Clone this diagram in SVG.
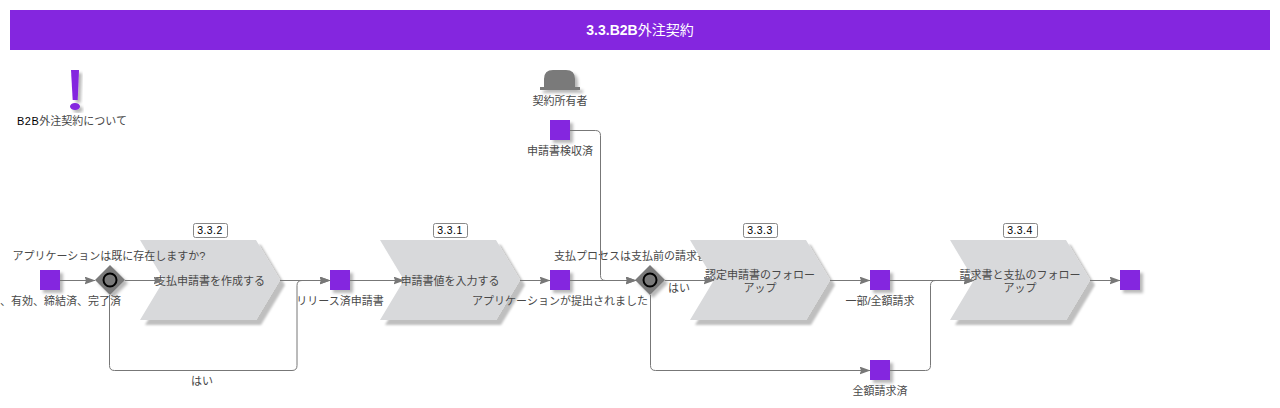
<svg xmlns="http://www.w3.org/2000/svg" width="1280" height="408" viewBox="0 0 1280 408">
<style>
text{font-family:"Liberation Sans","Noto Sans CJK JP",sans-serif;font-size:11px;fill:#484848;text-anchor:middle}
.ev{fill:#8426df;filter:url(#s)}
.fn{fill:#d8d9db;filter:url(#s2)}
.gw{fill:#7a7a7a;filter:url(#s)}
.ring{fill:none;stroke:#000;stroke-width:2}
.badge{fill:#fff;stroke:#888;stroke-width:1}
.num{fill:#000;font-size:10.500px;letter-spacing:.4px}
.c{fill:none;stroke:#777;stroke-width:1;marker-end:url(#a)}
</style>
<defs>
<filter id="s" x="-30%" y="-30%" width="170%" height="170%"><feDropShadow dx="3" dy="3" stdDeviation="1.5" flood-color="#000" flood-opacity=".28"/></filter>
<filter id="s2" x="-10%" y="-10%" width="125%" height="130%"><feDropShadow dx="5" dy="5" stdDeviation="1.2" flood-color="#000" flood-opacity=".25"/></filter>
<marker id="a" markerUnits="userSpaceOnUse" markerWidth="11" markerHeight="8" refX="10.500" refY="4" orient="auto"><path d="M0 0L11 4L0 8L1.500 4Z" fill="#777"/></marker>
<polygon id="chev" points="0,0 116,0 140,40 116,80 0,80 24,40"/>
</defs>
<g id="header"><rect x="10" y="10" width="1260" height="40" fill="#8426df"/><text x="640" y="35" style="font-size:14px;fill:#fff;font-weight:bold">3.3.B2B<tspan font-weight="normal">外注契約</tspan></text></g>
<g id="note"><path class="ev" d="M71 70H79L77.700 100H72.700Z"/><ellipse class="ev" cx="75" cy="106.500" rx="5" ry="3.500"/><text x="72" y="125"><tspan fill="#000" letter-spacing=".5">B2B</tspan>外注契約について</text></g>
<g id="owner"><path class="gw" d="M544 87V79Q544 70 553 70H566Q575 70 575 79V87H580V90H540V87Z"/><text x="560" y="105">契約所有者</text></g>
<g id="e-received"><rect class="ev" x="550" y="120" width="20" height="20"/><text x="560" y="155">申請書検収済</text></g>
<g id="f332"><use href="#chev" x="140" y="240" class="fn"/><text x="210" y="285">支払申請書を作成する</text><rect class="badge" x="193.500" y="223.500" width="34" height="14" rx="2"/><text x="210" y="234" class="num">3.3.2</text></g>
<g id="e-start"><rect class="ev" x="40" y="270" width="20" height="20"/></g>
<g id="g1"><path class="gw" d="M110 265L125 280L110 295L95 280Z"/><circle class="ring" cx="110" cy="280" r="6.500"/><text x="109" y="260">アプリケーションは既に存在しますか?</text><text x="121" y="305" style="text-anchor:end">、有効、締結済、完了済</text></g>
<g id="e-released"><rect class="ev" x="330" y="270" width="20" height="20"/><text x="340" y="305">リリース済申請書</text></g>
<g id="f331"><use href="#chev" x="380" y="240" class="fn"/><text x="450" y="285">申請書値を入力する</text><rect class="badge" x="433.500" y="223.500" width="34" height="14" rx="2"/><text x="450" y="234" class="num">3.3.1</text></g>
<g id="e-submitted"><rect class="ev" x="550" y="270" width="20" height="20"/><text x="560" y="305">アプリケーションが提出されました</text></g>
<g id="g2"><path class="gw" d="M650 265L665 280L650 295L635 280Z"/><circle class="ring" cx="650" cy="280" r="6.500"/><text x="554" y="260" style="text-anchor:start">支払プロセスは支払前の請求書</text><text x="679" y="292">はい</text></g>
<g id="f333"><use href="#chev" x="690" y="240" class="fn"/><text x="760" y="279">認定申請書のフォロー</text><text x="760" y="292">アップ</text><rect class="badge" x="743.500" y="223.500" width="34" height="14" rx="2"/><text x="760" y="234" class="num">3.3.3</text></g>
<g id="e-partial"><rect class="ev" x="870" y="270" width="20" height="20"/><text x="880" y="305">一部/全額請求</text></g>
<g id="e-full"><rect class="ev" x="870" y="360" width="20" height="20"/><text x="880" y="395">全額請求済</text></g>
<g id="f334"><use href="#chev" x="950" y="240" class="fn"/><text x="1020" y="279">請求書と支払のフォロー</text><text x="1020" y="292">アップ</text><rect class="badge" x="1003.500" y="223.500" width="34" height="14" rx="2"/><text x="1020" y="234" class="num">3.3.4</text></g>
<g id="e-end"><rect class="ev" x="1120" y="270" width="20" height="20"/></g>
<g id="g1-yes"><text x="202" y="385">はい</text></g>
<g id="connectors">
<path class="c" d="M60 280.500H95"/>
<path class="c" d="M125 280.500H164"/>
<path class="c" d="M280 280.500H330"/>
<path class="c" d="M109.500 295V365.500Q109.500 370.500 114.500 370.500H292Q297 370.500 297 365.500V285.500Q297 280.500 302 280.500H330"/>
<path class="c" d="M350 280.500H404"/>
<path class="c" d="M520 280.500H550"/>
<path class="c" d="M570 280.500H636"/>
<path class="c" d="M570 130.500H595.500Q600.500 130.500 600.500 135.500V275.500Q600.500 280.500 605.500 280.500H636"/>
<path class="c" d="M665 280.500H714"/>
<path class="c" d="M650.500 295V365.500Q650.500 370.500 655.500 370.500H870"/>
<path class="c" d="M830 280.500H870"/>
<path class="c" d="M890 280.500H974"/>
<path class="c" d="M890 370.500H925.500Q930.500 370.500 930.500 365.500V285.500Q930.500 280.500 935.500 280.500H974"/>
<path class="c" d="M1090 280.500H1120"/>
</g>
</svg>
